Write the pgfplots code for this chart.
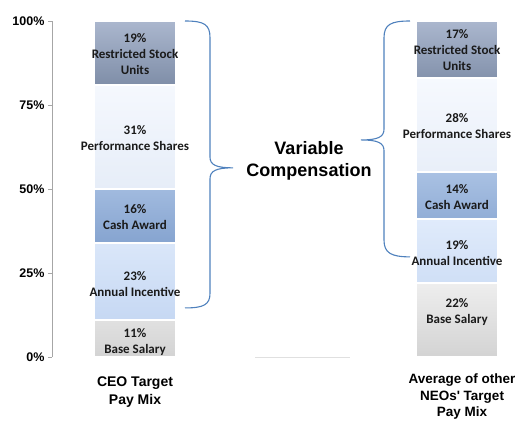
\documentclass[border=0pt]{standalone}
\usepackage{pgfplots}
\pgfplotsset{compat=1.18}
\usepackage{fontspec}
\setmainfont{Liberation Sans}
\newfontfamily\calibri{Carlito}
\definecolor{baseT}{HTML}{EEEEEE}\definecolor{baseB}{HTML}{D3D3D3}
\definecolor{annT}{HTML}{E0EBFB}\definecolor{annB}{HTML}{C6D8F3}
\definecolor{cashT}{HTML}{A9C1E3}\definecolor{cashB}{HTML}{86A4D0}
\definecolor{perfT}{HTML}{F6F9FE}\definecolor{perfB}{HTML}{E6EDF8}
\definecolor{rsuT}{HTML}{ABB7CE}\definecolor{rsuB}{HTML}{7F8EA8}
\definecolor{brace}{HTML}{4F81BD}
\definecolor{labtxt}{HTML}{1A1A1A}
\begin{document}
\begin{tikzpicture}
\path[use as bounding box] (0,0) rectangle (515pt,421pt);
\begin{axis}[
  at={(52pt,64pt)}, anchor=south west,
  scale only axis, width=463pt, height=336pt,
  xmin=52, xmax=515, ymin=0, ymax=100,
  ybar stacked, bar width=81,
  hide x axis,
  axis y line*=left,
  y axis line style={draw=black!35, -},
  ytick={0,25,50,75,100},
  yticklabels={0\%,25\%,50\%,75\%,100\%},
  yticklabel style={font=\fontsize{12.5}{14}\selectfont\bfseries, text=black},
  tick align=outside, major tick length=4pt,
  tick style={draw=black!35},
  clip=false,
]
\addplot[draw=white, line width=1.5pt, top color=baseT, bottom color=baseB] coordinates {(135,11) (457,22)};
\addplot[draw=white, line width=1.5pt, top color=annT, bottom color=annB] coordinates {(135,23) (457,19)};
\addplot[draw=white, line width=1.5pt, top color=cashT, bottom color=cashB] coordinates {(135,16) (457,14)};
\addplot[draw=white, line width=1.5pt, top color=perfT, bottom color=perfB] coordinates {(135,31) (457,28)};
\addplot[draw=white, line width=1.5pt, top color=rsuT, bottom color=rsuB] coordinates {(135,19) (457,17)};

\coordinate (c1) at (axis cs:135,90.3);
\coordinate (c2) at (axis cs:135,65.2);
\coordinate (c3) at (axis cs:135,41.7);
\coordinate (c4) at (axis cs:135,21.6);
\coordinate (c5) at (axis cs:135,4.6);
\coordinate (n1) at (axis cs:457,91.4);
\coordinate (n2) at (axis cs:457,68.75);
\coordinate (n3) at (axis cs:457,47.5);
\coordinate (n4) at (axis cs:457,30.8);
\coordinate (n5) at (axis cs:457,13.5);
\coordinate (vc) at (axis cs:309,58.3);
\coordinate (xl1) at (axis cs:135,-10.4);
\coordinate (xl2) at (axis cs:462,-11.8);

% braces
\draw[brace, line width=1.1pt]
  (axis cs:185,100) .. controls (axis cs:204,100) and (axis cs:210,99) .. (axis cs:210,95)
  -- (axis cs:210,59.5) .. controls (axis cs:210,57.2) and (axis cs:216,56.3) .. (axis cs:233,56.3)
  (axis cs:233,56.3) .. controls (axis cs:216,56.3) and (axis cs:210,55.4) .. (axis cs:210,53)
  -- (axis cs:210,19) .. controls (axis cs:210,15.6) and (axis cs:204,14.6) .. (axis cs:185,14.6);
\draw[brace, line width=1.1pt]
  (axis cs:410,100) .. controls (axis cs:391,100) and (axis cs:384,99) .. (axis cs:384,95)
  -- (axis cs:384,67.8) .. controls (axis cs:384,65.5) and (axis cs:378,64.6) .. (axis cs:361,64.6)
  (axis cs:361,64.6) .. controls (axis cs:378,64.6) and (axis cs:384,63.7) .. (axis cs:384,61.4)
  -- (axis cs:384,34.8) .. controls (axis cs:384,31) and (axis cs:391,29.8) .. (axis cs:410,29.8);

\draw[black!12, line width=0.6pt] (axis cs:255,0) -- (axis cs:350,0);
\end{axis}
\tikzset{bl/.style={align=center, text=labtxt, font=\calibri\bfseries\fontsize{13}{16}\selectfont, inner sep=0pt}}
\node[bl] at (c1) {19\%\\Restricted Stock\\Units};
\node[bl] at (c2) {31\%\\Performance Shares};
\node[bl] at (c3) {16\%\\Cash Award};
\node[bl] at (c4) {23\%\\Annual Incentive};
\node[bl] at (c5) {11\%\\Base Salary};
\node[bl] at (n1) {17\%\\Restricted Stock\\Units};
\node[bl] at (n2) {28\%\\Performance Shares};
\node[bl] at (n3) {14\%\\Cash Award};
\node[bl] at (n4) {19\%\\Annual Incentive};
\node[bl] at (n5) {22\%\\Base Salary};
\node[align=center, font=\bfseries\fontsize{18}{22}\selectfont, text=black] at (vc) {Variable\\Compensation};
\node[align=center, font=\bfseries\fontsize{14}{18}\selectfont, text=black] at (xl1) {CEO Target\\Pay Mix};
\node[align=center, font=\bfseries\fontsize{13.5}{16.5}\selectfont, text=black] at (xl2) {Average of other\\NEOs\textquotesingle\ Target\\Pay Mix};
\end{tikzpicture}
\end{document}
